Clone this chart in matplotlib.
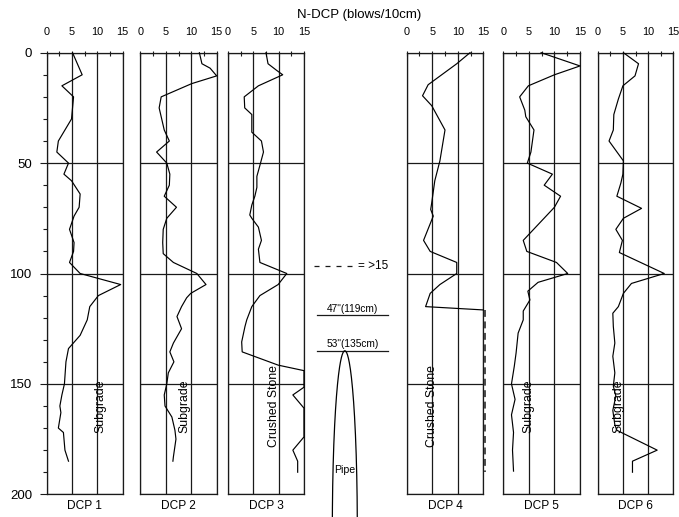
import matplotlib
matplotlib.use("Agg")
import matplotlib.pyplot as plt
import matplotlib.transforms as mtransforms
import numpy as np
from matplotlib.ticker import MultipleLocator

plt.rcParams["font.family"] = ["Liberation Sans", "DejaVu Sans"]

# ---------------------------------------------------------------- data
# DCP penetration index profiles: depth (cm) and N-DCP (blows/10cm)
dcp1_depth = [0, 10, 15, 20, 30, 40, 45, 50, 55, 58, 64, 70, 74, 80, 86, 90, 95, 100,
              105, 110, 115, 121, 128, 134, 140, 150, 155, 160, 163, 170, 172, 180, 185]
dcp1_n = [5.1, 7.0, 3.0, 5.3, 4.9, 2.3, 2.0, 4.3, 3.4, 4.9, 6.6, 6.4, 5.4, 4.5, 5.4, 5.3, 4.5, 6.6,
          14.6, 10.2, 8.5, 8.0, 6.6, 4.3, 3.8, 3.5, 3.0, 2.6, 2.8, 2.3, 3.3, 3.6, 4.3]

dcp2_depth = [0, 5, 7, 10.5, 14, 20, 25, 35, 40, 45, 50, 55, 60, 65, 70, 75, 80, 86, 91, 95,
              100, 105, 109, 111, 115, 119.5, 125, 131.5, 135.5, 140, 145, 150, 155, 160, 165,
              171, 175, 183, 185]
dcp2_n = [11.6, 12.1, 13.7, 15.0, 10.1, 4.1, 3.7, 4.7, 5.7, 3.2, 5.2, 5.8, 5.7, 4.7, 7.1, 5.2,
          4.5, 4.4, 4.5, 6.5, 11.1, 12.9, 9.9, 9.1, 8.1, 7.2, 8.1, 6.5, 5.8, 6.6, 5.5, 5.2, 4.7,
          4.85, 6.2, 6.8, 7.0, 6.5, 6.4]

dcp3_depth = [0, 5, 8, 10, 15, 20, 25, 28, 36, 40, 45, 51, 56, 61, 65, 69, 73.5, 75, 79, 85,
              89, 95, 100, 105, 110, 115, 121, 124, 131, 135.5, 141.5, 144, 151.5, 155, 161,
              174, 180, 185, 190]
dcp3_n = [7.5, 7.9, 9.6, 10.8, 6.0, 3.2, 3.3, 4.7, 4.7, 6.6, 7.0, 6.3, 5.7, 5.7, 5.3, 4.7, 4.3,
          4.7, 6.0, 6.6, 6.0, 6.3, 11.6, 9.9, 6.3, 4.7, 3.7, 3.35, 2.7, 2.8, 9.9, 15, 15, 12.8,
          15, 15, 12.8, 13.75, 13.75]

dcp4_depth = [0, 5, 14.5, 19.5, 24, 35, 49, 58, 68, 71, 74, 85, 90, 95, 100, 105, 109, 115, 116.5]
dcp4_n = [12.4, 9.8, 4.2, 3.1, 4.9, 7.5, 6.5, 5.5, 4.9, 4.7, 5.2, 3.3, 4.6, 9.8, 9.8, 6.5, 4.6,
          3.7, 15]
dcp4_refusal = [116.5, 190]  # depth range where N-DCP > 15

dcp5_depth = [0, 6, 10, 15, 20, 26, 29, 35, 40, 45, 50, 55, 60, 65, 70, 85, 90, 95, 100, 104,
              108, 112, 117, 121, 127, 136, 142, 150, 157, 164, 172, 180, 189.5]
dcp5_n = [7.4, 15, 10, 4.9, 3.2, 4.2, 4.4, 6.0, 5.7, 5.4, 4.7, 9.6, 8.0, 11.2, 10.0, 3.9, 4.6,
          10.4, 12.6, 6.8, 4.8, 5.2, 3.9, 3.9, 2.9, 2.5, 2.15, 1.6, 2.3, 1.6, 2.0, 1.8, 2.0]

dcp6_depth = [0, 5, 10.5, 15, 21, 28, 35, 40, 49, 55, 59, 65, 70.5, 75, 80, 85, 90.5, 100,
              104.5, 109, 115, 118, 124, 131.5, 137.5, 145, 151, 155.5, 162, 168.5, 171, 180,
              185, 190]
dcp6_n = [5.1, 8.1, 7.4, 5.0, 4.1, 3.2, 3.1, 2.25, 5.1, 5.0, 4.6, 3.8, 8.7, 5.1, 3.6, 4.9, 4.3,
          13.2, 6.7, 5.1, 4.1, 3.0, 3.1, 3.4, 3.0, 3.4, 3.1, 3.6, 3.0, 3.4, 3.8, 11.8, 6.9, 6.9]

panel_names = ["DCP 1", "DCP 2", "DCP 3", "DCP 4", "DCP 5", "DCP 6"]
layer_names = ["Subgrade", "Subgrade", "Crushed Stone", "Crushed Stone", "Subgrade", "Subgrade"]

refusal_depth = 96.5          # legend line for N-DCP > 15
pipe_marks = [(119, '47"(119cm)'), (135, '53"(135cm)')]
pipe_top = 135

# ---------------------------------------------------------------- layout
W, H = 679, 517
fig = plt.figure(figsize=(W / 100, H / 100), dpi=100)

Y_TOP, Y_BOT = 52.7, 494.3
panel_px = [(46.7, 122.7), (140.3, 216.7), (228.0, 304.0),
            (406.7, 483.3), (503.3, 580.0), (597.7, 673.3)]
label_x = [10.5, 8.6, 9.1, 5.0, 4.9, 4.1]
INK = "#1a1a1a"


def add_px_axes(x0, x1, y0, y1):
    return fig.add_axes([x0 / W, 1 - y1 / H, (x1 - x0) / W, (y1 - y0) / H])


profiles = [(dcp1_depth, dcp1_n), (dcp2_depth, dcp2_n), (dcp3_depth, dcp3_n),
            (dcp4_depth, dcp4_n), (dcp5_depth, dcp5_n), (dcp6_depth, dcp6_n)]

for i, ((x0, x1), (depth, nval)) in enumerate(zip(panel_px, profiles)):
    ax = add_px_axes(x0, x1, Y_TOP, Y_BOT)
    ax.set_xlim(0, 15)
    ax.set_ylim(200, 0)
    for s in ax.spines.values():
        s.set_color(INK)
        s.set_linewidth(0.9)

    ax.xaxis.tick_top()
    ax.xaxis.set_major_locator(MultipleLocator(5))
    ax.xaxis.set_minor_locator(MultipleLocator(2.5))
    ax.tick_params(axis="x", which="both", direction="inout", length=3.6, width=0.8,
                   color=INK, labelsize=7.8, pad=9.5, bottom=False, top=True)

    ax.yaxis.set_major_locator(MultipleLocator(50))
    ax.yaxis.set_minor_locator(MultipleLocator(10))
    if i == 0:
        ax.tick_params(axis="y", which="major", direction="out", length=5, width=0.8,
                       color=INK, labelsize=9.5, pad=5.5)
        ax.tick_params(axis="y", which="minor", direction="out", length=3, width=0.8,
                       color=INK)
    else:
        ax.tick_params(axis="y", which="both", left=False, labelleft=False)

    ax.grid(True, which="major", color=INK, linewidth=0.9)
    ax.set_axisbelow(True)

    ax.plot(nval, depth, color="black", linewidth=0.85, clip_on=False, zorder=3)

    ax.text(label_x[i], 160, layer_names[i], rotation=90, ha="center", va="center",
            fontsize=8.8, zorder=4)
    ax.annotate(panel_names[i], xy=(0.5, 0), xycoords="axes fraction",
                xytext=(0, -8.3), textcoords="offset points",
                ha="center", va="center", fontsize=8.6)

    if i == 3:
        # refusal (> 15 blows) drawn as a dashed line just outside the right frame
        shift = mtransforms.ScaledTranslation(1.6 / 100, 0, fig.dpi_scale_trans)
        ax.plot([15, 15], dcp4_refusal, color=INK, linewidth=1.1,
                linestyle=(0, (4.5, 3.0)), clip_on=False, zorder=3,
                transform=ax.transData + shift)

# ---------------------------------------------------------------- middle: legend and pipe
mid = add_px_axes(304.0, 406.7, Y_TOP, Y_BOT)
mid.set_xlim(0, 20)
mid.set_ylim(200, 0)
mid.axis("off")

mid.plot([1.95, 9.5], [refusal_depth, refusal_depth], color=INK, linewidth=0.9,
         linestyle=(0, (4, 4.8)))
mid.text(10.5, refusal_depth, "= >15", ha="left", va="center", fontsize=8.5)

for d, txt in pipe_marks:
    mid.plot([2.53, 16.36], [d, d], color=INK, linewidth=0.9)
    mid.text(9.45, d - 0.6, txt, ha="center", va="bottom", fontsize=7.3)

# pipe outline: upper half of a tall ellipse whose crown sits at pipe_top
t = np.linspace(0, np.pi, 200)
pipe_half_h = 80
pipe_cx, pipe_hw = 7.95, 2.43
mid.plot(pipe_cx + pipe_hw * np.cos(t), pipe_top + pipe_half_h - pipe_half_h * np.sin(t),
         color="black", linewidth=0.9, clip_on=False)
mid.text(8.0, 189, "Pipe", ha="center", va="center", fontsize=7.6)

fig.text(359 / W, 1 - 15 / H, "N-DCP (blows/10cm)", ha="center", va="center", fontsize=9.5)

fig.savefig("out.png", dpi=100)
